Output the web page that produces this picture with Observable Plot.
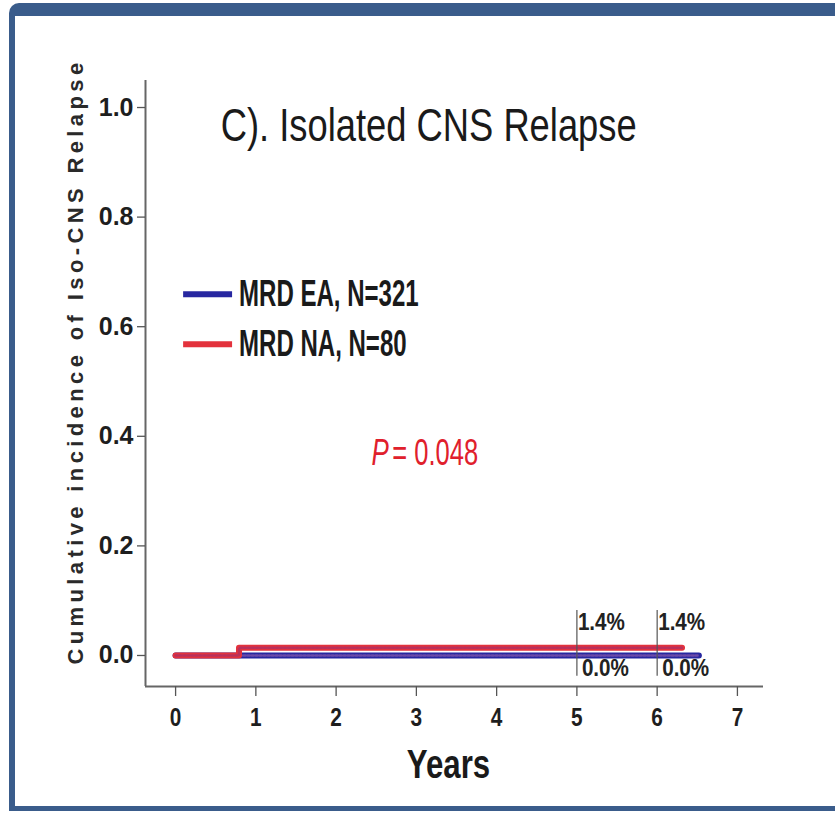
<!DOCTYPE html>
<html>
<head>
<meta charset="utf-8">
<script src="https://cdn.jsdelivr.net/npm/d3@7"></script>
<script src="https://cdn.jsdelivr.net/npm/@observablehq/plot@0.6"></script>
<style>
  html, body { margin: 0; padding: 0; background: #ffffff; overflow: hidden; }
  #wrap { position: relative; width: 835px; height: 816px; }
  #frame {
    position: absolute; left: 9px; top: 3px; width: 840px; height: 808px;
    border-left: 6px solid #3a5c8b; border-top: 13px solid #3a5c8b; border-bottom: 5px solid #3a5c8b;
    border-top-left-radius: 10px; pointer-events: none; box-sizing: border-box;
  }
  #chart { position: absolute; left: 0; top: 0; }
</style>
</head>
<body>
<div id="wrap"><div id="chart"></div><div id="frame"></div></div>
<script>
// ---------- data ----------
const titleText = "C). Isolated CNS Relapse";
const xTitle = "Years";
const yTitle = "Cumulative incidence of Iso-CNS Relapse";
const xTicks = [0, 1, 2, 3, 4, 5, 6, 7];
const yTicks = [0, 0.2, 0.4, 0.6, 0.8, 1.0];
const seriesNames = ["MRD EA, N=321", "MRD NA, N=80"];
const seriesColors = ["#2727a0", "#e3323c"];
const seriesDots = ["#6a4aa8", "#b8305c"];
// step curves (years, cumulative incidence)
const eaTime = [0, 6.52];
const eaCI = [0, 0];
const naTime = [0, 0.79, 6.31];
const naCI = [0, 0.014, 0.014];
// annotated estimates
const annotYears = [5, 6];
const annotNA = ["1.4%", "1.4%"];
const annotEA = ["0.0%", "0.0%"];
const pLabel = "P";
const pValueText = "= 0.048";

// ---------- layout ----------
const xDomain = [-0.375, 7.325];
const yDomain = [-0.0566, 1.0493];

const curves = [
  ...eaTime.map((t, i) => ({series: seriesNames[0], t, ci: eaCI[i]})),
  ...naTime.map((t, i) => ({series: seriesNames[1], t, ci: naCI[i]}))
];
const ea = curves.filter(d => d.series === seriesNames[0]);
const na = curves.filter(d => d.series === seriesNames[1]);
const annot = annotYears.map((y, i) => ({year: y, na: annotNA[i], ea: annotEA[i]}));
const legend = seriesNames.map((name, i) => ({name, color: seriesColors[i], y: [0.659, 0.568][i]}));

const F = "Liberation Sans, Arial, Helvetica, sans-serif";

const plot = Plot.plot({
  width: 835,
  height: 816,
  marginLeft: 145,
  marginRight: 72,
  marginTop: 80,
  marginBottom: 130,
  style: {background: "transparent", fontFamily: F, color: "#222"},
  x: {domain: xDomain},
  y: {domain: yDomain},
  marks: [
    Plot.ruleX([xDomain[0]], {stroke: "#666", strokeWidth: 2}),
    Plot.ruleY([yDomain[0]], {stroke: "#666", strokeWidth: 2}),
    Plot.axisY({ticks: yTicks, tickFormat: d3.format(".1f"), tickSize: 8, tickPadding: 4,
      fontSize: 25, fontWeight: "bold", stroke: "#555", strokeWidth: 1.3, fill: "#1e1e1e", label: null}),
    Plot.axisX({ticks: xTicks, tickFormat: d3.format("d"), tickSize: 10, tickPadding: 11,
      fontSize: 26, fontWeight: "bold", stroke: "#555", strokeWidth: 1.3, fill: "#1e1e1e", label: null}),
    Plot.text([xTitle], {frameAnchor: "bottom", dx: -6, dy: 91, text: d => d, fontSize: 40, fontWeight: "bold",
      lineAnchor: "bottom", fill: "#1a1a1a"}),
    Plot.text([yTitle], {frameAnchor: "left", dx: -70, dy: -22, text: d => d, rotate: -90, fontSize: 22,
      textAnchor: "middle", lineAnchor: "middle", fontWeight: "bold", fill: "#2a2a2a"}),
    // curves
    Plot.line(ea, {x: "t", y: "ci", curve: "step-after", stroke: seriesColors[0], strokeWidth: 6}),
    Plot.line(ea, {x: "t", y: "ci", curve: "step-after", stroke: seriesDots[0], strokeWidth: 2.5, strokeDasharray: "2,2"}),
    Plot.line(na, {x: "t", y: "ci", curve: "step-after", stroke: seriesColors[1], strokeWidth: 6}),
    Plot.line(na, {x: "t", y: "ci", curve: "step-after", stroke: seriesDots[1], strokeWidth: 2.5, strokeDasharray: "2,2"}),
    // annotation rules and labels
    Plot.ruleX(annot, {x: "year", y1: 0.082, y2: -0.038, stroke: "#555", strokeWidth: 1.2}),
    Plot.text(annot, {x: "year", y: 0.046, text: "na", textAnchor: "start", lineAnchor: "bottom", dx: 1,
      fontSize: 24, fontWeight: "bold", fill: "#222"}),
    Plot.text(annot, {x: "year", y: -0.038, text: "ea", textAnchor: "start", lineAnchor: "bottom", dx: 5,
      fontSize: 24, fontWeight: "bold", fill: "#222"}),
    // title
    Plot.text([titleText], {x: 0.5625, y: 0.938, text: d => d, textAnchor: "start", lineAnchor: "bottom",
      fontSize: 46, fontWeight: "normal", fill: "#1a1a1a"}),
    // legend
    Plot.ruleY(legend, {y: "y", x1: 0.1, x2: 0.71, stroke: "color", strokeWidth: 6}),
    Plot.text(legend, {x: 0.79, y: "y", text: "name", textAnchor: "start", lineAnchor: "middle",
      fontSize: 37, fontWeight: "bold", fill: "#1a1a1a"}),
    // p-value
    Plot.text([pLabel], {x: 2.44, y: 0.3485, text: d => d, textAnchor: "start", lineAnchor: "bottom",
      fontSize: 37, fontStyle: "italic", fill: "#e0202c"}),
    Plot.text([pValueText], {x: 2.7, y: 0.3485, text: d => d, textAnchor: "start", lineAnchor: "bottom",
      fontSize: 37, fill: "#e0202c"})
  ]
});
document.getElementById("chart").appendChild(plot);

// condensed lettering, as in the reference: horizontal scale about each text's own anchor
function squeezeText(t, f) {
  const x = +t.getAttribute("x") || 0, y = +t.getAttribute("y") || 0;
  const tr = t.getAttribute("transform") || "";
  t.setAttribute("transform", `${tr} translate(${x},${y}) scale(${f},1) translate(${-x},${-y})`);
}
const factorByText = new Map([
  [titleText, 0.79], [xTitle, 0.78], [pLabel, 0.70], [pValueText, 0.69],
  ...seriesNames.map(s => [s, 0.65]),
  ...annotNA.map(s => [s, 0.86]), ...annotEA.map(s => [s, 0.86])
]);
plot.querySelectorAll("text").forEach(t => {
  const s = t.textContent;
  const inXAxis = t.closest('g[aria-label="x-axis tick label"]');
  if (inXAxis) squeezeText(t, 0.8);
  else if (factorByText.has(s)) squeezeText(t, factorByText.get(s));
  else if (s === yTitle) {
    const L = t.getComputedTextLength();
    t.style.letterSpacing = ((606 - L) / s.length).toFixed(2) + "px";
  }
});
</script>
</body>
</html>
